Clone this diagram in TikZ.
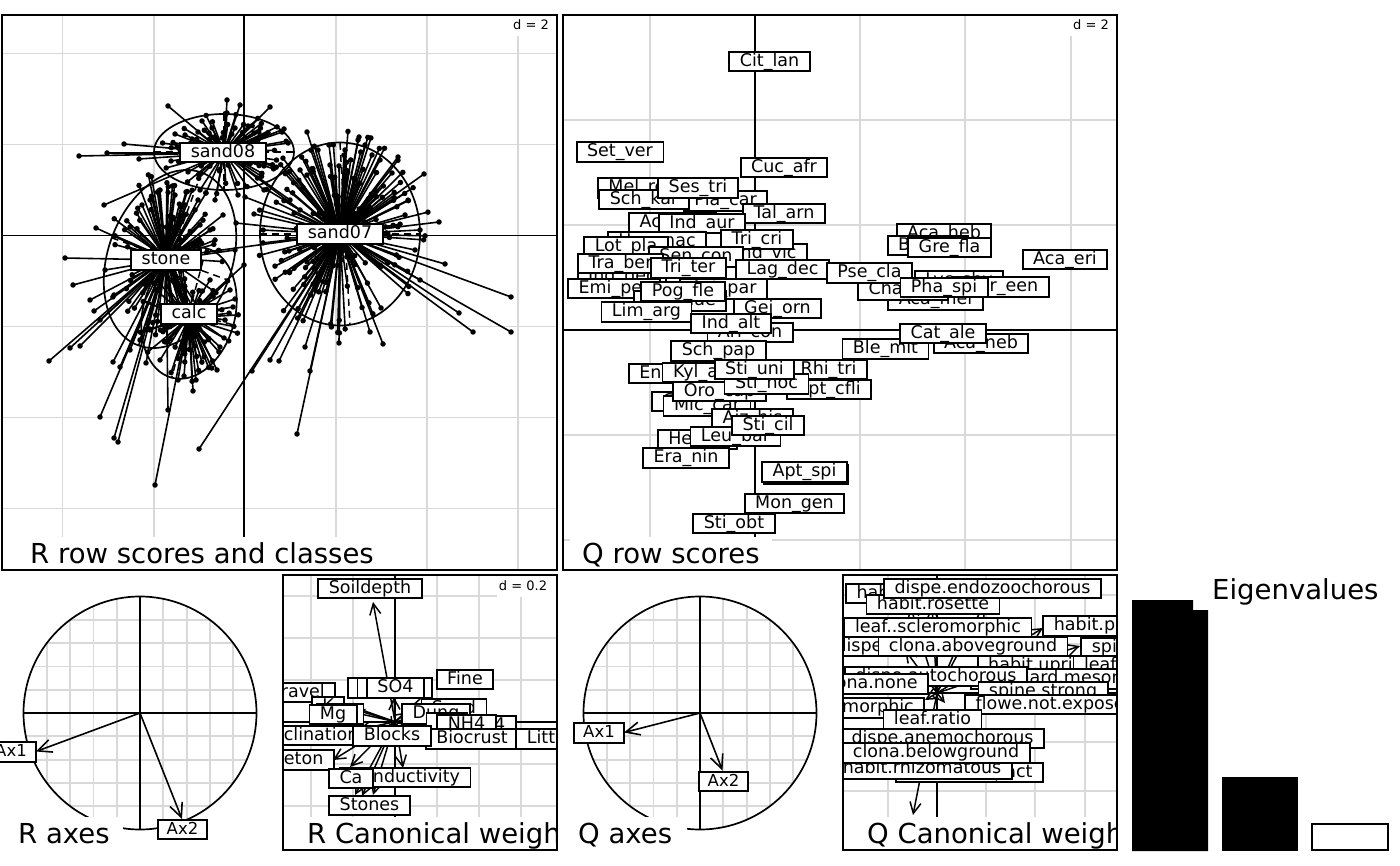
\documentclass[tikz,border=0pt]{standalone}
\usepackage{fontspec}
\setmainfont{DejaVu Sans}
\usetikzlibrary{arrows.meta}
\begin{document}
\begin{tikzpicture}[x=1pt,y=-1pt,
  gridln/.style={draw=gray!30, line width=1.8pt},
  axln/.style={draw=black, line width=1.8pt},
  pframe/.style={draw=black, line width=1.8pt},
  spoke/.style={line width=1.6pt},
  dotn/.style={circle, fill=black, inner sep=0pt, minimum size=5.5pt},
  ellln/.style={line width=1.7pt},
  ellax/.style={line width=1.5pt, dash pattern=on 7pt off 5pt},
  lbl/.style={draw=black, fill=white, line width=1.8pt, font=\fontsize{17.5}{17.5}\selectfont, inner xsep=10.5pt, inner ysep=0pt, minimum height=19.5pt, text height=12.8pt, text depth=3.7pt},
  axlbl/.style={lbl, font=\fontsize{16.5}{16.5}\selectfont, text height=12pt, text depth=3pt, inner xsep=9pt},
  ttl/.style={font=\fontsize{27.5}{27.5}\selectfont, inner sep=0pt, anchor=base west},
  dtxt/.style={font=\fontsize{13}{13}\selectfont, inner xsep=2pt, inner ysep=1pt},
  arw/.style={line width=1.5pt, -{Straight Barb[length=11pt,width=11pt]}},
  arwb/.style={line width=1.6pt, -{Straight Barb[length=14pt,width=13pt]}},
]
\useasboundingbox (0,0) rectangle (1400,866);
\fill[white] (0,0) rectangle (1400,866);

% ================= Panel 1 : R row scores and classes =================
\begin{scope}
\clip (2,15) rectangle (557,570);
\foreach \x in {62.5,153.7,335.9,427.1,518.3} \draw[gridln] (\x,15) -- (\x,570);
\foreach \y in {53.5,144.5,326.5,417.5,508.5} \draw[gridln] (2,\y) -- (557,\y);
\fill[white] (508,16) rectangle (556,36);
\node[dtxt] (d1) at (531,25) {d = 2};
\draw[axln] (244.3,15) -- (244.3,570);
\draw[axln] (2,235.5) -- (557,235.5);
% random short spokes
\pgfmathsetseed{4711}
\foreach \cx/\cy/\rx/\ry/\k in {340/234/82/92/190, 224/152/60/38/85, 166/258/55/78/110, 189/318/45/58/80}{
  \foreach \i in {1,...,\k}{
    \pgfmathsetmacro\aa{rnd*360}
    \pgfmathsetmacro\rr{0.12+1.0*rnd}
    \draw[spoke] (\cx,\cy) -- ++({\rx*\rr*cos(\aa)},{\ry*\rr*sin(\aa)}) node[dotn]{};
  }
}
% explicit spokes sand07
\foreach \px/\py in {307/132,359/137,398/157,424/174,439/222,445/264,511/297,511/332,473/332,459/313,383/344,339/343,297/434,310/371,199/449,252/371,270/360,279/361,305/347,370/332,329/145,236/223,254/214,245/197,289/251,307/262,405/215,420/280,381/308,358/140,372/155,392/173,207/252,420/230,415/250,318/150,345/150,365/145,380/160,330/165,300/170}
  \draw[spoke] (340,234) -- (\px,\py) node[dotn]{};
% sand08
\foreach \px/\py in {168/106,227/100,270/107,79/156,107/153,124/144,139/159,104/205,284/129,202/121,175/134,264/166,171/161,240/105,227/113,192/139,254/133,300/210,290/200,264/190,215/200,200/190,238/195,185/135,198/132,212/128,235/128,248/126,258/140,180/150}
  \draw[spoke] (224,153) -- (\px,\py) node[dotn]{};
% stone
\foreach \px/\py in {65/258,73/285,49/361,70/348,80/346,96/228,100/417,114/438,118/442,94/311,105/270,114/295,142/205,130/227,168/410,113/362,146/363,120/367,223/215,206/193,186/192,160/190,150/200,175/195,198/200,215/240,235/250,90/300,100/320,130/350,140/340,185/205,195/210,200/225,210/230,180/215}
  \draw[spoke] (166,260) -- (\px,\py) node[dotn]{};
% calc
\foreach \px/\py in {155/485,193/391,217/370,244/265,233/307,235/299,184/376,166/342,224/338,204/357,178/380,196/380,160/360,150/330,225/320,230/290,210/280}
  \draw[spoke] (189,314) -- (\px,\py) node[dotn]{};
% ellipses with dashed axes
\draw[ellln] (224,152) ellipse [x radius=70, y radius=38];
\draw[ellax] (154,152) -- (294,152);
\draw[ellax] (224,114) -- (224,190);
\draw[ellln] (340,234) ellipse [x radius=80, y radius=91.5];
\draw[ellax] (260,234) -- (420,234);
\draw[ellax] (340,143) -- (350,325);
\begin{scope}[rotate around={-20:(170,259)}]
\draw[ellln] (170,259) ellipse [x radius=62, y radius=92];
\draw[ellax] (108,259) -- (232,259);
\draw[ellax] (170,167) -- (170,351);
\end{scope}
\begin{scope}[rotate around={-15:(189,313)}]
\draw[ellln] (189,313) ellipse [x radius=46, y radius=67];
\draw[ellax] (143,313) -- (235,313);
\draw[ellax] (189,246) -- (189,380);
\end{scope}
\node[lbl] (sand08) at (223,152.5) {sand08};
\node[lbl] (sand07) at (340,234) {sand07};
\node[lbl] (stone) at (166,260) {stone};
\node[lbl] (calc) at (189,314) {calc};
\fill[white] (15,537) rectangle (390,570);
\node[ttl] (t1) at (30,563) {R row scores and classes};
\end{scope}
\draw[pframe] (2,15) rectangle (557,570);

% ================= Panel 2 : Q row scores =================
\begin{scope}
\clip (563,15) rectangle (1117,570);
\foreach \x in {650,860,965,1070.7} \draw[gridln] (\x,15) -- (\x,570);
\foreach \y in {120,225,435,540} \draw[gridln] (563,\y) -- (1117,\y);
\fill[white] (1068,16) rectangle (1116,36);
\node[dtxt] (d2) at (1091,25) {d = 2};
\draw[axln] (754.6,15) -- (754.6,570);
\draw[axln] (563,330) -- (1117,330);
\foreach \t/\x/\y [count=\i] in {
 Cit\_lan/769.5/61.5, Set\_ver/620/152, Cuc\_afr/784/167.5, Mel\_rep/642.5/188,
 Pla\_car/725.5/201, Sch\_kar/644/199.5, Ses\_tri/698/188, Tal\_arn/784/213.5,
 Aca\_tor/672.5/222.5, Ind\_aur/702/223.5, Her\_mac/657/242, Ind\_vic/766/253.5,
 Tri\_cri/757/239.5, Lot\_pla/626/246.5, Sen\_con/696/257, Ind\_dec/622/276.5,
 Tra\_ber/620.5/263.5, Tri\_ter/688.5/268, Lag\_dec/782.5/269.5, Emi\_per/614/288.5,
 Ast\_par/723.6/289, Fag\_dae/680/301, Pog\_fle/683/291.5, Gei\_orn/777.5/308.5,
 Lim\_arg/646.5/312, Ari\_con/750/332.5, Ind\_alt/731/323.5, Sch\_pap/718.5/351,
 Ble\_mit/885.5/349, Enn\_cen/676/373.5, Kyl\_alb/703.5/372.5, Rhi\_tri/828.5/369.5,
 Ept\_cfli/829/389.5, Cyp\_con/699.5/401.5, Mic\_car/707/406, Oro\_cap/719.5/391.5,
 Sti\_noc/766.5/384, Sti\_uni/754.5/369.5, Aiz\_his/752.5/418.5, Hel\_sti/697.5/439.5,
 Leu\_bar/735.5/436.5, Sti\_cil/768/425.5, Era\_nin/686/458, Apt\_spi/806/474.5,
 Apt\_spi/804.5/472, Mon\_gen/794.5/503.5, Sti\_obt/734/523.5,
 Aca\_heb/944/234, Ble\_hir/928/245.5, Gre\_fla/949.5/247.5, Aca\_eri/1065/259.5,
 Lyc\_shy/959/281, Mer\_een/1001/287, Aca\_mel/935.5/300, Cha\_lev/903/290,
 Pse\_cla/869.5/273, Pha\_spi/944/287.5, Aca\_neb/981/343.5, Cat\_ale/943/333.5}
 \node[lbl] (q\i) at (\x,\y) {\t};
\fill[white] (570,537) rectangle (772,570);
\node[ttl] (t2) at (582,563) {Q row scores};
\end{scope}
\draw[pframe] (563,15) rectangle (1117,570);

% ================= R axes =================
\begin{scope}
\clip (140,713) circle [radius=116.5];
\foreach \k in {-5,...,5} {
  \draw[gridln] ({140+23.3*\k},590) -- ({140+23.3*\k},836);
  \draw[gridln] (17,{713+23.3*\k}) -- (263,{713+23.3*\k});
}
\end{scope}
\draw[line width=1.7pt] (140,713) circle [radius=116.5];
\draw[axln] (23.5,713) -- (256.5,713);
\draw[axln] (140,596.5) -- (140,829.5);
\fill[white] (0,817) rectangle (123,852);
\node[ttl] (t3) at (18,843) {R axes};
\coordinate (rc) at (140,713);
\coordinate (rt1) at (36,751.5);
\coordinate (rt2) at (182,819);
\draw[arwb] (rc) -- (rt1);
\draw[arwb] (rc) -- (rt2);
\node[axlbl] (rax1) at (11,752) {Ax1};
\node[axlbl] (rax2) at (182.5,829.5) {Ax2};

% ================= R Canonical weights =================
\begin{scope}
\clip (283,575) rectangle (557,850);
\foreach \x in {311,353,437,479,521} \draw[gridln] (\x,575) -- (\x,850);
\foreach \y in {595.7,637.7,679.7,763.7,805.7,847.7} \draw[gridln] (283,\y) -- (557,\y);
\fill[white] (497,576) rectangle (556,597);
\node[dtxt] (d3) at (523,586) {d = 0.2};
\draw[axln] (395,575) -- (395,850);
\draw[axln] (283,721.7) -- (557,721.7);
\coordinate (ro) at (395,721.7);
\foreach \px/\py in {373/602,432/688,394/697,328/698,340/705,352/712,408/712,450/712,440/722,432/724,430/733,520/730,358/730,392/730,333/760,350/767,403/768,373/795,362/796,355/795}
  \draw[arw] (ro) -- (\px,\py);
\foreach \t/\x/\y [count=\i] in {
 NO3/377.5/688, Na/380/688, Cl/413/688, SO4/395.5/688, Fine/465/679.5, Gravel/296/692.5,
 K/328/707, Mn/340/714, Mg/333/714.5, Sand/454/709, Dung/436/714,
 Fe/447/723, PO4/487.5/726, NH4/466.5/724.5, Biocrust/472/739, Litter/550/739,
 Inclination/313/735.5, Blocks/392/736, Skeleton/285.5/760, Conductivity/405/777.5,
 Ca/351/778.5, Stones/369.5/805.5, Soildepth/370/588.5}
 \node[lbl] (r\i) at (\x,\y) {\t};
\fill[white] (284,817) rectangle (556,849);
\node[ttl] (t4) at (307,843) {R Canonical weights};
\end{scope}
\draw[pframe] (283,575) rectangle (557,850);

% ================= Q axes =================
\begin{scope}
\clip (700,713) circle [radius=116.5];
\foreach \k in {-5,...,5} {
  \draw[gridln] ({700+23.3*\k},590) -- ({700+23.3*\k},836);
  \draw[gridln] (577,{713+23.3*\k}) -- (823,{713+23.3*\k});
}
\end{scope}
\draw[line width=1.7pt] (700,713) circle [radius=116.5];
\draw[axln] (583.5,713) -- (816.5,713);
\draw[axln] (700,596.5) -- (700,829.5);
\fill[white] (560,817) rectangle (687,852);
\node[ttl] (t5) at (578,843) {Q axes};
\coordinate (qc) at (700,713);
\coordinate (qt1) at (624,732.5);
\coordinate (qt2) at (722.5,770.5);
\draw[arwb] (qc) -- (qt1);
\draw[arwb] (qc) -- (qt2);
\node[axlbl] (qax1) at (599,733) {Ax1};
\node[axlbl] (qax2) at (723.5,781.5) {Ax2};

% ================= Q Canonical weights =================
\begin{scope}
\clip (843,575) rectangle (1117,850);
\foreach \x in {888,986,1035,1085} \draw[gridln] (\x,575) -- (\x,850);
\foreach \y in {595,644,742,791,840} \draw[gridln] (843,\y) -- (1117,\y);
\draw[axln] (937,575) -- (937,850);
\draw[axln] (843,693) -- (1117,693);
\coordinate (qo) at (937,693);
\foreach \px/\py in {910/605,932/606,985/603,1043/628,1080/646,913/815,945/703,925/700,960/640,905/650}
  \draw[arw] (qo) -- (\px,\py);
\foreach \t/\x/\y [count=\i] in {
 habit.tussock/915/593.5, habit.rosette/933/604.5, dispe.endozoochorous/992.5/588.5,
 leaf..scleromorphic/938/627.5, habit.prostrate/1119/626, dispe.epizoochorous/925/646.5,
 clona.aboveground/973/646.5, spine.weak/1141/648, habit.upright/1045/666,
 leaf.succulent/1144.5/666, leaf.hard.mesomorphic/1082.5/679, dispe.autochorous/936/676.5,
 clona.none/869.5/684, spine.strong/1043/692, leaf..mesomorphic/833/708,
 flowe.not.exposed/1055.7/704.5, leaf.ratio/932.5/719.5, habit.compact/969.5/772.5,
 habit.rhizomatous/922/769, dispe.anemochorous/942.5/738.5, clona.belowground/936/753}
 \node[lbl] (w\i) at (\x,\y) {\t};
\fill[white] (844,817) rectangle (1116,849);
\node[ttl] (t6) at (867,843) {Q Canonical weights};
\end{scope}
\draw[pframe] (843,575) rectangle (1117,850);

% ================= Eigenvalues =================
\fill (1132,600) -- (1193,600) -- (1193,610) -- (1208,610) -- (1208,851) -- (1132,851) -- cycle;
\fill (1222,777) rectangle (1298,851);
\draw[line width=1.7pt] (1312,824) rectangle (1388,850);
\node[ttl] (t7) at (1212,599) {Eigenvalues};
\end{tikzpicture}
\end{document}
